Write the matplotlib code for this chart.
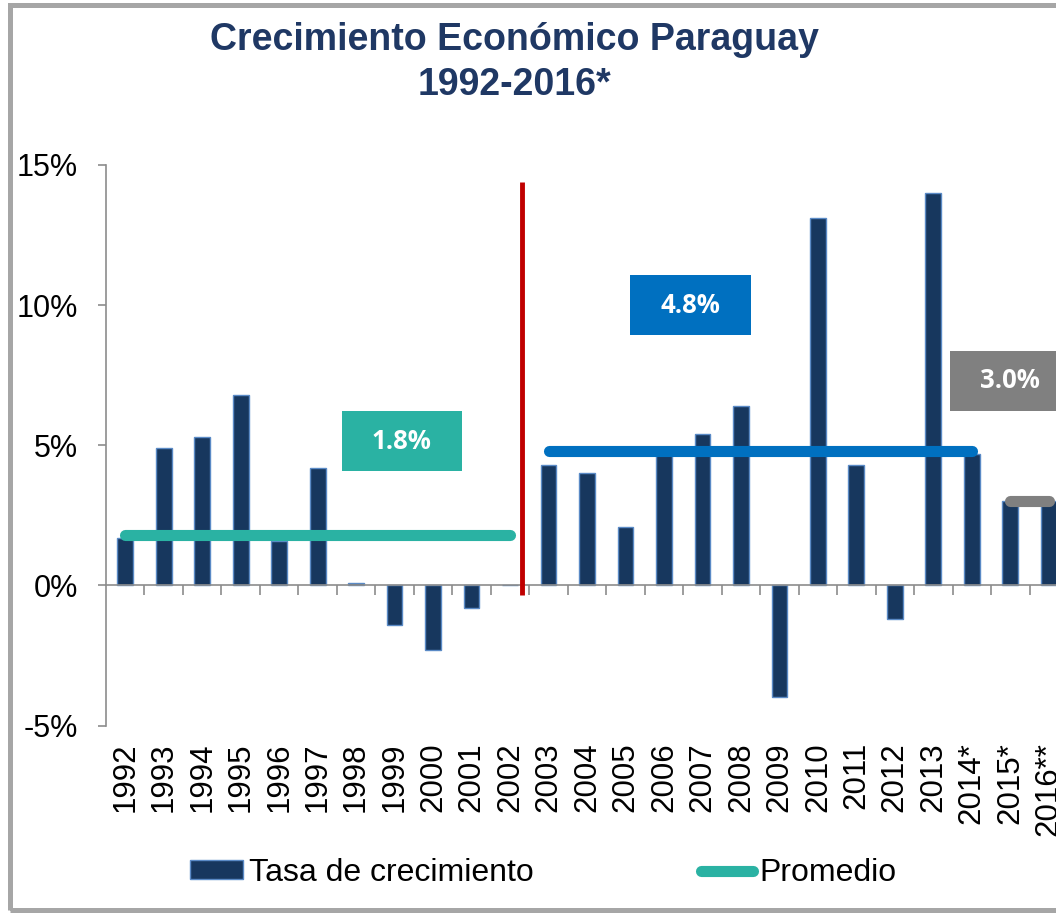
import matplotlib.pyplot as plt
from matplotlib.patches import Rectangle

# datos
anios = ["1992", "1993", "1994", "1995", "1996", "1997", "1998", "1999",
         "2000", "2001", "2002", "2003", "2004", "2005", "2006", "2007",
         "2008", "2009", "2010", "2011", "2012", "2013", "2014*", "2015*",
         "2016**"]
crecimiento = [1.7, 4.9, 5.3, 6.8, 1.6, 4.2, 0.1, -1.4, -2.3, -0.8, 0.0,
               4.3, 4.0, 2.1, 4.8, 5.4, 6.4, -4.0, 13.1, 4.3, -1.2, 14.0,
               4.7, 3.0, 3.0]

promedio_valores = [1.8, 4.8, 3.0]
promedio_desde = ["1992", "2003", "2015*"]
promedio_hasta = ["2002", "2014*", "2016**"]
promedio_textos = ["1.8%", "4.8%", "3.0%"]
promedio_colores = ["#2AB2A3", "#0070C0", "#808080"]

y_ticks = [-5, 0, 5, 10, 15]

FUENTE = ["Liberation Sans", "DejaVu Sans"]
AZUL_BARRA = "#17375E"
BORDE_BARRA = "#5A8AC6"

plt.rcParams["font.family"] = FUENTE

fig = plt.figure(figsize=(10.56, 9.13), dpi=100)
ax = fig.add_axes([106 / 1056, 1 - 725.5 / 913, 962 / 1056, 560.5 / 913])

x = list(range(len(anios)))

barras = ax.bar(
    x,
    crecimiento,
    width=0.41,
    color=AZUL_BARRA,
    edgecolor=BORDE_BARRA,
    linewidth=1.0,
    label="Tasa de crecimiento",
    zorder=2,
)

lineas = []
for valor, desde, hasta, color in zip(promedio_valores, promedio_desde,
                                      promedio_hasta, promedio_colores):
    i0 = anios.index(desde)
    i1 = anios.index(hasta)
    (linea,) = ax.plot(
        [i0, i1],
        [valor, valor],
        color=color,
        linewidth=8,
        solid_capstyle="round",
        zorder=3,
    )
    lineas.append(linea)

# cuadros con el promedio de cada periodo
cajas_centro_x = [7.19, 14.69, 23.0]
cajas_centro_y = [5.14, 10.0, 7.3]
caja_ancho = 3.13
caja_alto = 2.15

for cx, cy, texto, color in zip(cajas_centro_x, cajas_centro_y,
                                promedio_textos, promedio_colores):
    ax.add_patch(
        Rectangle(
            (cx - caja_ancho / 2, cy - caja_alto / 2),
            caja_ancho,
            caja_alto,
            facecolor=color,
            edgecolor="none",
            zorder=4,
            clip_on=False,
        )
    )
    ax.text(
        cx,
        cy,
        texto,
        color="white",
        fontsize=18.5,
        fontweight="bold",
        family=["Open Sans", "DejaVu Sans"],
        ha="center",
        va="center",
        zorder=5,
    )

# linea roja que separa los periodos
corte = 10.32
ax.plot([corte, corte], [-0.35, 14.4], color="#C00000", linewidth=3.5,
        zorder=3, solid_capstyle="butt")

ax.set_xlim(-0.5, len(anios) - 0.5)
ax.set_ylim(-5, 15)

ax.set_yticks(y_ticks)
ax.set_yticklabels([f"{v}%" for v in y_ticks])
ax.tick_params(axis="y", length=6, width=1.2, color="#8C8C8C",
               labelsize=22, pad=14)

for lado in ["top", "right"]:
    ax.spines[lado].set_visible(False)
ax.spines["left"].set_color("#8C8C8C")
ax.spines["left"].set_linewidth(1.2)
ax.spines["bottom"].set_position(("data", 0))
ax.spines["bottom"].set_color("#8C8C8C")
ax.spines["bottom"].set_linewidth(1.2)

ax.set_xticks([i + 0.5 for i in x])
ax.set_xticklabels([])
ax.tick_params(axis="x", length=7, width=1.2, color="#8C8C8C")

eje_anios = ax.secondary_xaxis("bottom")
eje_anios.set_xticks(x)
eje_anios.set_xticklabels(anios, rotation=90)
eje_anios.tick_params(length=0, labelsize=22.5, pad=12)
eje_anios.spines["bottom"].set_visible(False)

# titulo
fig.text(0.487, 1 - 50 / 913, "Crecimiento Económico Paraguay",
         fontsize=27, fontweight="bold", color="#1F3864",
         ha="center", va="baseline")
fig.text(0.487, 1 - 95 / 913, "1992-2016*",
         fontsize=27, fontweight="bold", color="#1F3864",
         ha="center", va="baseline")

fig.legend(
    [barras, lineas[0]],
    ["Tasa de crecimiento", "Promedio"],
    loc="center left",
    bbox_to_anchor=(190 / 1056, 1 - 873 / 913),
    ncol=2,
    frameon=False,
    fontsize=23,
    handlelength=1.65,
    handleheight=0.55,
    handletextpad=0.2,
    columnspacing=5.22,
    borderpad=0,
    borderaxespad=0,
)

# marco gris del grafico
fig.add_artist(
    Rectangle(
        (9.5 / 1056, 1 - 910 / 913),
        1.05,
        (910 - 5.5) / 913,
        transform=fig.transFigure,
        fill=False,
        edgecolor="#A6A6A6",
        linewidth=3.6,
    )
)

fig.savefig("out.png", dpi=100, facecolor="white")
